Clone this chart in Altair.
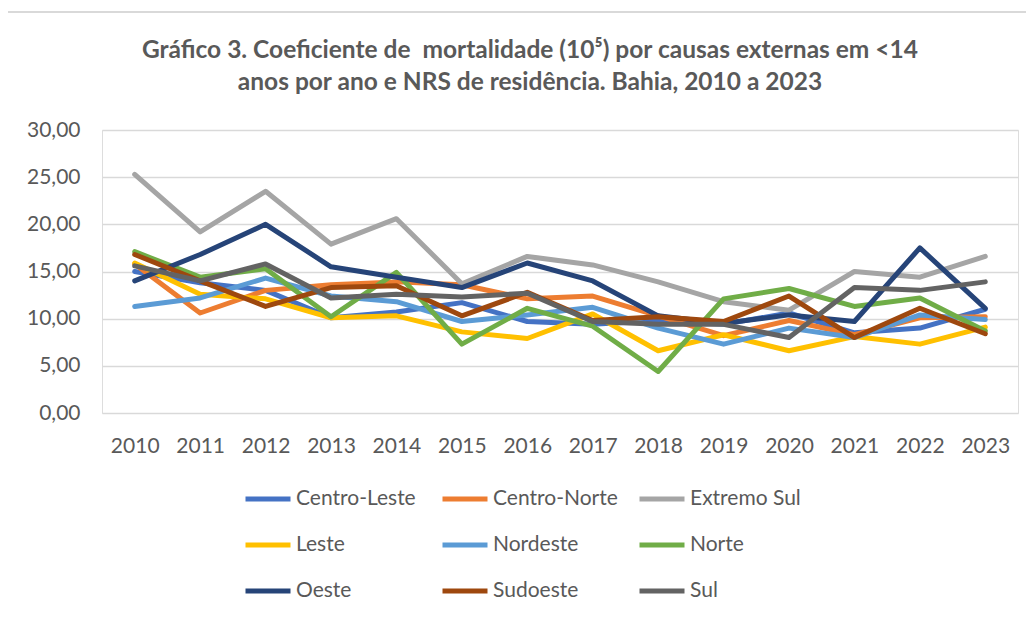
import altair as alt
import pandas as pd

years = [str(y) for y in range(2010, 2024)]
regions = ["Centro-Leste", "Centro-Norte", "Extremo Sul", "Leste", "Nordeste",
           "Norte", "Oeste", "Sudoeste", "Sul"]
colors = ["#4472C4", "#ED7D31", "#A5A5A5", "#FFC000", "#5B9BD5",
          "#70AD47", "#264478", "#9E480E", "#636363"]

centro_leste = [15.0, 13.8, 13.0, 10.1, 10.7, 11.7, 9.7, 9.4, 9.8, 9.4, 10.6, 8.5, 9.0, 11.0]
centro_norte = [15.8, 10.6, 13.0, 13.6, 13.9, 13.6, 12.1, 12.4, 10.3, 8.2, 9.8, 8.3, 10.1, 10.2]
extremo_sul = [25.3, 19.2, 23.5, 17.9, 20.6, 13.7, 16.6, 15.7, 13.9, 11.8, 10.9, 15.0, 14.4, 16.6]
leste = [15.9, 12.6, 12.1, 10.1, 10.3, 8.6, 7.9, 10.5, 6.6, 8.3, 6.6, 8.1, 7.3, 9.1]
nordeste = [11.3, 12.2, 14.3, 12.4, 11.8, 9.7, 10.4, 11.2, 9.0, 7.3, 9.0, 8.0, 10.4, 9.9]
norte = [17.1, 14.4, 15.3, 10.2, 14.9, 7.3, 11.1, 9.2, 4.4, 12.1, 13.2, 11.3, 12.2, 8.7]
oeste = [14.0, 16.8, 20.0, 15.5, 14.4, 13.3, 15.9, 14.0, 10.3, 9.5, 10.4, 9.7, 17.5, 11.1]
sudoeste = [16.8, 14.0, 11.3, 13.3, 13.5, 10.3, 12.8, 9.8, 10.2, 9.7, 12.4, 8.0, 11.1, 8.4]
sul = [15.6, 14.0, 15.8, 12.2, 12.6, 12.3, 12.7, 9.7, 9.4, 9.4, 8.0, 13.3, 13.0, 13.9]

title_lines = ["Gráfico 3. Coeficiente de\u00a0 mortalidade (10⁵) por causas externas em <14",
               "anos por ano e NRS de residência. Bahia, 2010 a 2023"]

series = [centro_leste, centro_norte, extremo_sul, leste, nordeste,
          norte, oeste, sudoeste, sul]

rows = []
for i, (name, vals) in enumerate(zip(regions, series)):
    for y, v in zip(years, vals):
        rows.append({"NRS": name, "ano": y, "valor": v, "ordem": i})
df = pd.DataFrame(rows)

FONT = "Lato"
TXT = "#595959"

lines = alt.Chart(df).mark_line(strokeWidth=5, strokeJoin="round", strokeCap="round").encode(
    x=alt.X("ano:O", scale=alt.Scale(type="point", padding=0.5),
            axis=alt.Axis(title=None, labelAngle=0, ticks=False, domain=False,
                          labelFontSize=21, labelColor=TXT, labelFont=FONT,
                          labelPadding=22, grid=False)),
    y=alt.Y("valor:Q", scale=alt.Scale(domain=[0, 30], nice=False),
            axis=alt.Axis(title=None, values=[0, 5, 10, 15, 20, 25, 30],
                          labelExpr="replace(format(datum.value, '.2f'), '.', ',')",
                          ticks=False, domain=False, labelFontSize=21,
                          labelColor=TXT, labelFont=FONT, labelPadding=22,
                          gridColor="#d9d9d9", gridWidth=1.5)),
    color=alt.Color("NRS:N", scale=alt.Scale(domain=regions, range=colors),
                    legend=alt.Legend(title=None, orient="none", legendX=141, legendY=344,
                                      direction="horizontal",
                                      columns=3, symbolType="stroke", symbolSize=2025,
                                      symbolStrokeWidth=5, labelFontSize=21,
                                      labelColor=TXT, labelFont=FONT, labelOffset=3,
                                      columnPadding=11, rowPadding=11, gridAlign="all",
                                      padding=0, labelLimit=300)),
    order=alt.Order("ordem:Q"),
    detail="NRS:N",
)

border = alt.Chart(df).mark_rect(fill=None, stroke="#d9d9d9", strokeWidth=1.5).encode(
    x=alt.value(-95), x2=alt.value(940), y=alt.value(-118), y2=alt.value(520)
)

t1 = alt.Chart(pd.DataFrame({"t": [title_lines[0]]})).mark_text(
    font=FONT, fontSize=24.5, fontWeight="bold", color=TXT, align="center", baseline="alphabetic"
).encode(text="t:N", x=alt.value(428), y=alt.value(-72))

t2 = alt.Chart(pd.DataFrame({"t": [title_lines[1]]})).mark_text(
    font=FONT, fontSize=24.5, fontWeight="bold", color=TXT, align="center", baseline="alphabetic"
).encode(text="t:N", x=alt.value(428), y=alt.value(-40))

chart = alt.layer(border, lines, t1, t2).properties(
    width=916, height=283,
    padding={"left": 94, "top": 122, "right": 8, "bottom": 190},
    autosize=alt.AutoSizeParams(type="none"),
).configure_view(stroke=None).configure(background="white")

chart.save("out.html", embed_options={"renderer": "svg", "actions": False})
